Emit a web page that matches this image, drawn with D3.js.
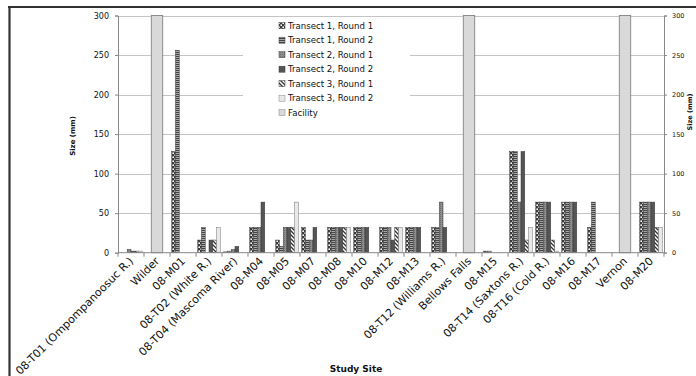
<!DOCTYPE html>
<html><head><meta charset="utf-8">
<script src="https://cdn.jsdelivr.net/npm/d3@7"></script>
<style>
body{margin:0;background:#fff;}
svg{display:block;}
text{font-family:"DejaVu Sans",Verdana,sans-serif;}
</style>
</head><body>
<svg id="c" width="696" height="376"></svg>
<script>
const categories = ["08-T01 (Ompompanoosuc R.)","Wilder","08-M01","08-T02 (White R.)","08-T04 (Mascoma River)","08-M04","08-M05","08-M07","08-M08","08-M10","08-M12","08-M13","08-T12 (Williams R.)","Bellows Falls","08-M15","08-T14 (Saxtons R.)","08-T16 (Cold R.)","08-M16","08-M17","Vernon","08-M20"];
const seriesNames = ["Transect 1, Round 1","Transect 1, Round 2","Transect 2, Round 1","Transect 2, Round 2","Transect 3, Round 1","Transect 3, Round 2"];
const facilityName = "Facility";
const t1r1 = [0,0,128,16,1,32,16,32,32,32,32,32,32,0,2,128,64,64,32,0,64];
const t1r2 = [0,0,256,32,2,32,8,16,32,32,32,32,32,0,2,128,64,64,64,0,64];
const t2r1 = [4,0,0,0,4,32,32,16,32,32,32,32,64,0,0,64,64,64,0,0,64];
const t2r2 = [2,0,0,16,8,64,32,32,32,32,16,32,32,0,0,128,64,64,0,0,64];
const t3r1 = [2,0,0,16,0,0,32,0,32,0,32,0,0,0,0,16,16,0,0,0,32];
const t3r2 = [2,0,0,32,0,0,64,0,32,0,32,0,0,0,0,32,2,0,0,0,32];
const facility = [0,300,0,0,0,0,0,0,0,0,0,0,0,300,0,0,0,0,0,300,0];
const yTicks = [0,50,100,150,200,250,300];
const series = [t1r1,t1r2,t2r1,t2r2,t3r1,t3r2];

const svg = d3.select("#c");
const defs = svg.append("defs");
function pat(id,w,h){return defs.append("pattern").attr("id",id).attr("width",w).attr("height",h).attr("patternUnits","userSpaceOnUse");}
let p;
p = pat("p0",4,4); p.append("rect").attr("width",4).attr("height",4).attr("fill","#3a3a3a");
p.append("rect").attr("x",0.4).attr("y",0.4).attr("width",1.6).attr("height",1.6).attr("fill","#fff");
p.append("rect").attr("x",2.4).attr("y",2.4).attr("width",1.6).attr("height",1.6).attr("fill","#fff");
p = pat("p1",2,2); p.append("rect").attr("width",2).attr("height",2).attr("fill","#a8a8a8");
p.append("rect").attr("width",2).attr("height",1).attr("fill","#444");
p = pat("p2",2,2); p.append("rect").attr("width",2).attr("height",2).attr("fill","#8e8e8e");
p.append("rect").attr("width",1).attr("height",1).attr("fill","#6e6e6e");
p = pat("p3",2,2); p.append("rect").attr("width",2).attr("height",2).attr("fill","#555");
p = pat("p4",4,4); p.append("rect").attr("width",4).attr("height",4).attr("fill","#fff");
p.append("path").attr("d","M0,0L4,4M-1,3L1,5M3,-1L5,1").attr("stroke","#333").attr("stroke-width",1.3);
p = pat("p5",2,2); p.append("rect").attr("width",2).attr("height",2).attr("fill","#e8e8e8");
const fills = ["url(#p0)","url(#p1)","url(#p2)","url(#p3)","url(#p4)","url(#p5)"];

// frame
svg.append("line").attr("x1",8).attr("x2",696).attr("y1",7).attr("y2",7).attr("stroke","#333").attr("stroke-width",2.2);
svg.append("line").attr("x1",9.5).attr("x2",9.5).attr("y1",6).attr("y2",376).attr("stroke","#333").attr("stroke-width",2.2);

const x = d3.scaleBand().domain(categories).range([118,664]).paddingInner(0).paddingOuter(0);
const xs = d3.scaleBand().domain(seriesNames).range([0,x.bandwidth()]).paddingInner(0).paddingOuter(0.45);
const xf = d3.scaleBand().domain([facilityName]).range([0,x.bandwidth()]).paddingOuter(0.65);
const y = d3.scaleLinear().domain([0,300]).range([252.7,15.5]);
const y2 = d3.scaleLinear().domain([0,300]).range([252.7,15.5]);

// gridlines
svg.append("g").selectAll("line").data(yTicks.filter(d=>d>0)).join("line")
  .attr("x1",118).attr("x2",664).attr("y1",d=>Math.round(y(d))+0.5).attr("y2",d=>Math.round(y(d))+0.5)
  .attr("stroke","#c4c4c4").attr("stroke-width",1);

// facility bars (secondary axis)
svg.append("g").selectAll("rect").data(categories.map((c,i)=>({c,v:facility[i]})).filter(d=>d.v>0)).join("rect")
  .attr("x",d=>x(d.c)+xf(facilityName)).attr("width",xf.bandwidth())
  .attr("y",d=>y2(d.v)).attr("height",d=>y2(0)-y2(d.v))
  .attr("fill","#d9d9d9").attr("stroke","#8c8c8c").attr("stroke-width",1);

// series bars
series.forEach((vals,si)=>{
  svg.append("g").selectAll("rect").data(categories.map((c,i)=>({c,v:vals[i]})).filter(d=>d.v>0)).join("rect")
    .attr("x",d=>x(d.c)+xs(seriesNames[si])).attr("width",xs.bandwidth())
    .attr("y",d=>y(d.v)).attr("height",d=>y(0)-y(d.v))
    .attr("fill",fills[si]).attr("stroke",si===5?"#777":"#3a3a3a").attr("stroke-width",0.5);
});

// legend
const lg = svg.append("g");
lg.append("rect").attr("x",243).attr("y",17).attr("width",167).attr("height",104).attr("fill","#fff");
const legendItems = seriesNames.concat([facilityName]);
const legendFills = fills.concat(["#d9d9d9"]);
legendItems.forEach((n,i)=>{
  const cy = 25.7 + i*14.5;
  lg.append("rect").attr("x",279).attr("y",cy-3).attr("width",6).attr("height",6)
    .attr("fill",legendFills[i]).attr("stroke",i>=5?"#888":"#3a3a3a").attr("stroke-width",0.5);
  lg.append("text").attr("x",288).attr("y",cy).attr("dominant-baseline","central")
    .attr("font-size","8.6px").attr("fill","#111").text(n);
});

// left axis
const ga = svg.append("g").attr("transform","translate(118,0)")
  .call(d3.axisLeft(y).tickValues(yTicks).tickSize(3).tickPadding(6));
ga.select(".domain").attr("stroke","#888");
ga.selectAll(".tick line").attr("stroke","#888");
ga.selectAll(".tick text").attr("font-size","8px").attr("fill","#111").attr("font-family","DejaVu Sans");

// right axis
const gr = svg.append("g").attr("transform","translate(664,0)")
  .call(d3.axisRight(y2).tickValues(yTicks).tickSize(3).tickPadding(5));
gr.select(".domain").attr("stroke","#888");
gr.selectAll(".tick line").attr("stroke","#888");
gr.selectAll(".tick text").attr("font-size","6.5px").attr("fill","#111").attr("font-family","DejaVu Sans");

// x axis
const y0 = y(0);
const gx = svg.append("g");
gx.append("line").attr("x1",118).attr("x2",664).attr("y1",y0).attr("y2",y0).attr("stroke","#888");
gx.selectAll("line.t").data(categories.map(c=>x(c)).concat([x.range()[1]])).join("line").attr("class","t")
  .attr("x1",d=>d).attr("x2",d=>d).attr("y1",y0).attr("y2",y0+4).attr("stroke","#888");
gx.selectAll("text").data(categories).join("text")
  .attr("transform",d=>`translate(${x(d)+x.bandwidth()/2+3},${y0+9}) rotate(-45)`)
  .attr("text-anchor","end").attr("font-size","11px").attr("fill","#111").text(d=>d);

// titles
svg.append("text").attr("x",356).attr("y",372).attr("text-anchor","middle").attr("font-weight","bold").attr("font-size","9px").attr("fill","#111").text("Study Site");
svg.append("text").attr("transform","translate(73,136) rotate(-90)").attr("text-anchor","middle").attr("dominant-baseline","central").attr("font-weight","bold").attr("font-size","7px").attr("fill","#111").text("Size (mm)");
svg.append("text").attr("transform","translate(690,112) rotate(-90)").attr("text-anchor","middle").attr("dominant-baseline","central").attr("font-weight","bold").attr("font-size","6.5px").attr("fill","#111").text("Size (mm)");
</script>
</body></html>
